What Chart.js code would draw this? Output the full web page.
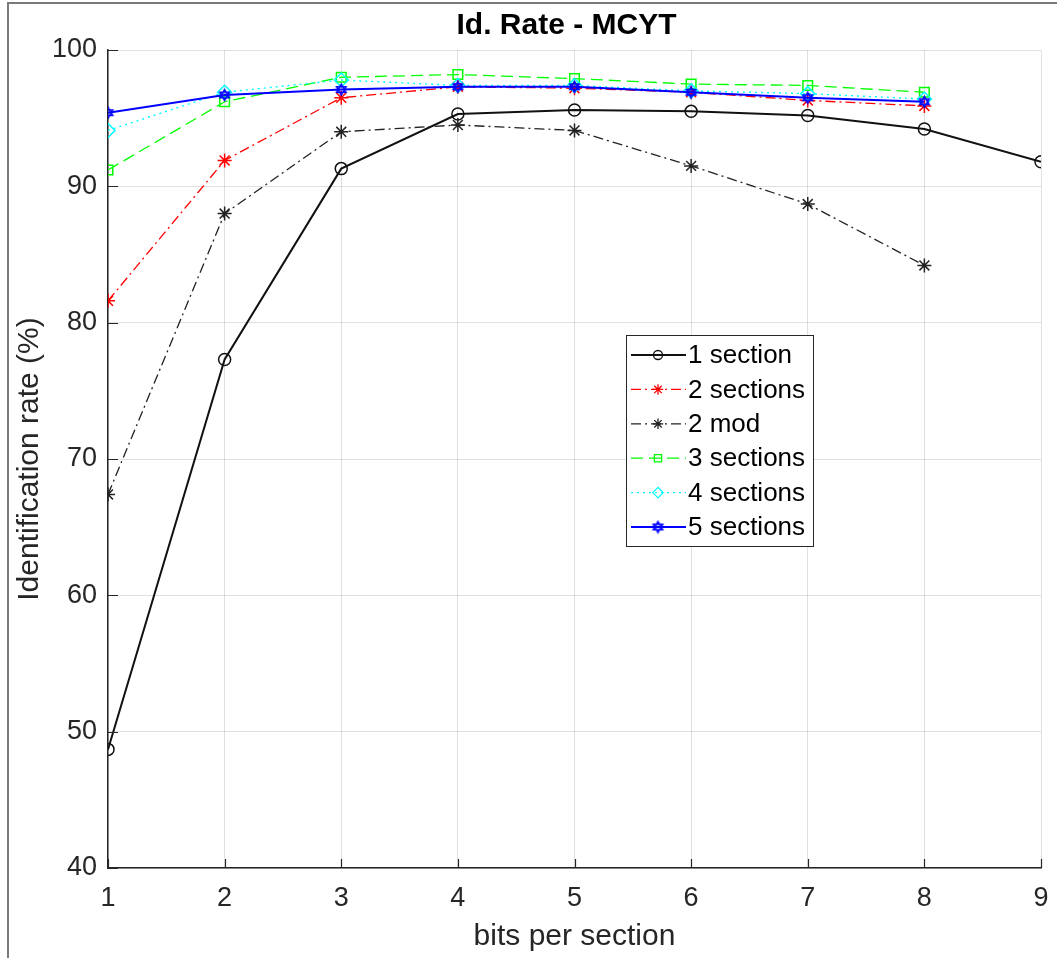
<!DOCTYPE html>
<html>
<head>
<meta charset="utf-8">
<title>Id. Rate - MCYT</title>
<script src="https://cdn.jsdelivr.net/npm/chart.js@4.4.1/dist/chart.umd.min.js"></script>
<style>
  html, body { margin: 0; padding: 0; background: #fff; }
  #wrap { width: 1057px; height: 958px; }
</style>
</head>
<body>
<div id="wrap"><canvas id="rate" width="1057" height="958"></canvas></div>
<script>
// identification rate (%) against bits per section, one list per configuration
var bits          = [1, 2, 3, 4, 5, 6, 7, 8, 9];
var oneSection    = [48.7, 77.3, 91.3, 95.3, 95.6, 95.5, 95.2, 94.2, 91.8];
var twoSections   = [81.6, 91.9, 96.5, 97.3, 97.2, 96.9, 96.3, 95.9];
var twoMod        = [67.4, 88.0, 94.0, 94.5, 94.1, 91.5, 88.7, 84.2];
var threeSections = [91.2, 96.2, 98.0, 98.2, 97.9, 97.5, 97.4, 96.9];
var fourSections  = [94.1, 96.9, 97.8, 97.4, 97.4, 97.0, 96.8, 96.4];
var fiveSections  = [95.4, 96.7, 97.1, 97.3, 97.3, 96.9, 96.5, 96.2];
var seriesNames   = ['1 section', '2 sections', '2 mod', '3 sections', '4 sections', '5 sections'];
var xTicks        = [1, 2, 3, 4, 5, 6, 7, 8, 9];
var yTicks        = [40, 50, 60, 70, 80, 90, 100];
var titleText     = 'Id. Rate - MCYT';

var FONT = '"Liberation Sans", Arial, Helvetica, sans-serif';
var AXIS = '#262626';

// six-pointed star marker, drawn once and reused as a point image
function hexagram(color, r) {
	var s = Math.ceil(r * 2 + 4);
	var c = document.createElement('canvas');
	c.width = s; c.height = s;
	var g = c.getContext('2d');
	g.strokeStyle = color;
	g.lineWidth = 1.5;
	[-Math.PI / 2, Math.PI / 2].forEach(function (a0) {
		g.beginPath();
		for (var k = 0; k < 3; k++) {
			var a = a0 + k * 2 * Math.PI / 3;
			var px = s / 2 + r * Math.cos(a), py = s / 2 + r * Math.sin(a);
			if (k) g.lineTo(px, py); else g.moveTo(px, py);
		}
		g.closePath();
		g.stroke();
	});
	return c;
}

function points(vals) {
	return vals.map(function (v, i) { return { x: bits[i], y: v }; });
}

function series(i, vals, color, width, dash, style, radius) {
	return {
		label: seriesNames[i],
		data: points(vals),
		borderColor: color,
		backgroundColor: 'rgba(0,0,0,0)',
		borderWidth: width,
		borderDash: dash,
		pointStyle: style,
		pointRadius: radius,
		pointBorderColor: color,
		pointBackgroundColor: 'rgba(0,0,0,0)',
		pointBorderWidth: 1.5,
		tension: 0,
		order: seriesNames.length - i
	};
}

var datasets = [
	series(0, oneSection,    '#111111', 2,   [],            'circle',  6),
	series(1, twoSections,   '#ff0000', 1.3, [10, 4, 2, 4], 'star',    7),
	series(2, twoMod,        '#222222', 1.3, [10, 4, 2, 4], 'star',    7),
	series(3, threeSections, '#00ff00', 1.3, [12, 6],       'rect',    6.8),
	series(4, fourSections,  '#00ffff', 1.4, [2, 4],        'rectRot', 7),
	series(5, fiveSections,  '#0000ff', 2,   [],            hexagram('#0000ff', 5.5), 6)
];

// white page, grey frame along the top and left, bold title over the axes
var frame = {
	id: 'frame',
	beforeDraw: function (chart) {
		var ctx = chart.ctx, a = chart.chartArea;
		ctx.save();
		ctx.fillStyle = '#fff';
		ctx.fillRect(0, 0, chart.width, chart.height);
		ctx.strokeStyle = '#7a7a7a';
		ctx.lineWidth = 2;
		ctx.beginPath();
		ctx.moveTo(8, chart.height);
		ctx.lineTo(8, 3);
		ctx.lineTo(chart.width, 3);
		ctx.stroke();
		ctx.fillStyle = '#000';
		ctx.font = 'bold 30px ' + FONT;
		ctx.textAlign = 'center';
		ctx.textBaseline = 'middle';
		ctx.fillText(titleText, (a.left + a.right) / 2 - 8, 26);
		ctx.restore();
	}
};

// short ticks pointing into the plot
var innerTicks = {
	id: 'innerTicks',
	afterDatasetsDraw: function (chart) {
		var ctx = chart.ctx, a = chart.chartArea;
		var xs = chart.scales.x, ys = chart.scales.y;
		ctx.save();
		ctx.strokeStyle = AXIS;
		ctx.lineWidth = 1.2;
		ctx.beginPath();
		yTicks.forEach(function (t) {
			var py = Math.round(ys.getPixelForValue(t)) + 0.5;
			ctx.moveTo(a.left, py);
			ctx.lineTo(a.left + 10, py);
		});
		xTicks.forEach(function (t) {
			var px = Math.round(xs.getPixelForValue(t)) + 0.5;
			ctx.moveTo(px, a.bottom);
			ctx.lineTo(px, a.bottom - 9);
		});
		ctx.stroke();
		ctx.restore();
	}
};

// boxed legend sitting inside the axes
var boxLegend = {
	id: 'boxLegend',
	afterDraw: function (chart) {
		var ctx = chart.ctx, a = chart.chartArea;
		var left = a.left + 518, top = a.top + 285;
		var w = 187, h = 211, row = 34.4;
		ctx.save();
		ctx.fillStyle = '#fff';
		ctx.fillRect(left, top, w, h);
		ctx.strokeStyle = AXIS;
		ctx.lineWidth = 1;
		ctx.strokeRect(left + 0.5, top + 0.5, w, h);
		ctx.font = '26px ' + FONT;
		ctx.textBaseline = 'middle';
		chart.data.datasets.forEach(function (ds, i) {
			var cy = top + 20 + i * row;
			ctx.strokeStyle = ds.borderColor;
			ctx.lineWidth = ds.borderWidth;
			ctx.setLineDash(ds.borderDash);
			ctx.beginPath();
			ctx.moveTo(left + 5, cy);
			ctx.lineTo(left + 60, cy);
			ctx.stroke();
			ctx.setLineDash([]);
			ctx.fillStyle = 'rgba(0,0,0,0)';
			ctx.lineWidth = 1.3;
			Chart.helpers.drawPoint(ctx, {
				pointStyle: ds.pointStyle,
				radius: ds.pointRadius * 0.75,
				rotation: 0,
				borderWidth: 1.3
			}, left + 32, cy);
			ctx.fillStyle = '#000';
			ctx.fillText(ds.label, left + 62, cy + 1);
		});
		ctx.restore();
	}
};

new Chart(document.getElementById('rate'), {
	type: 'line',
	data: { datasets: datasets },
	plugins: [frame, innerTicks, boxLegend],
	options: {
		responsive: false,
		animation: false,
		events: [],
		layout: { padding: { left: 0, right: 16, top: 50, bottom: 0 } },
		plugins: {
			legend: { display: false },
			tooltip: { enabled: false },
			title: { display: false }
		},
		scales: {
			x: {
				type: 'linear',
				min: 1,
				max: 9,
				afterFit: function (s) { s.height = 90; s.paddingLeft = 0; s.paddingRight = 0; },
				afterBuildTicks: function (s) { s.ticks = xTicks.map(function (v) { return { value: v }; }); },
				grid: { color: 'rgba(0,0,0,0.12)', lineWidth: 1, drawTicks: false },
				border: { color: AXIS, width: 1.5 },
				ticks: { color: AXIS, padding: 14, font: { family: FONT, size: 27 } },
				title: {
					display: true,
					text: 'bits per section',
					color: AXIS,
					font: { family: FONT, size: 30 },
					padding: { top: 0, bottom: 3 }
				}
			},
			y: {
				type: 'linear',
				min: 40,
				max: 100,
				afterFit: function (s) { s.width = 108; s.paddingTop = 0; s.paddingBottom = 0; },
				afterBuildTicks: function (s) { s.ticks = yTicks.map(function (v) { return { value: v }; }); },
				grid: { color: 'rgba(0,0,0,0.12)', lineWidth: 1, drawTicks: false },
				border: { color: AXIS, width: 1.5 },
				ticks: { color: AXIS, padding: 11, font: { family: FONT, size: 27 } },
				title: {
					display: true,
					text: 'Identification rate (%)',
					color: AXIS,
					font: { family: FONT, size: 30 },
					padding: { top: 12, bottom: 0 }
				}
			}
		}
	}
});
</script>
</body>
</html>
